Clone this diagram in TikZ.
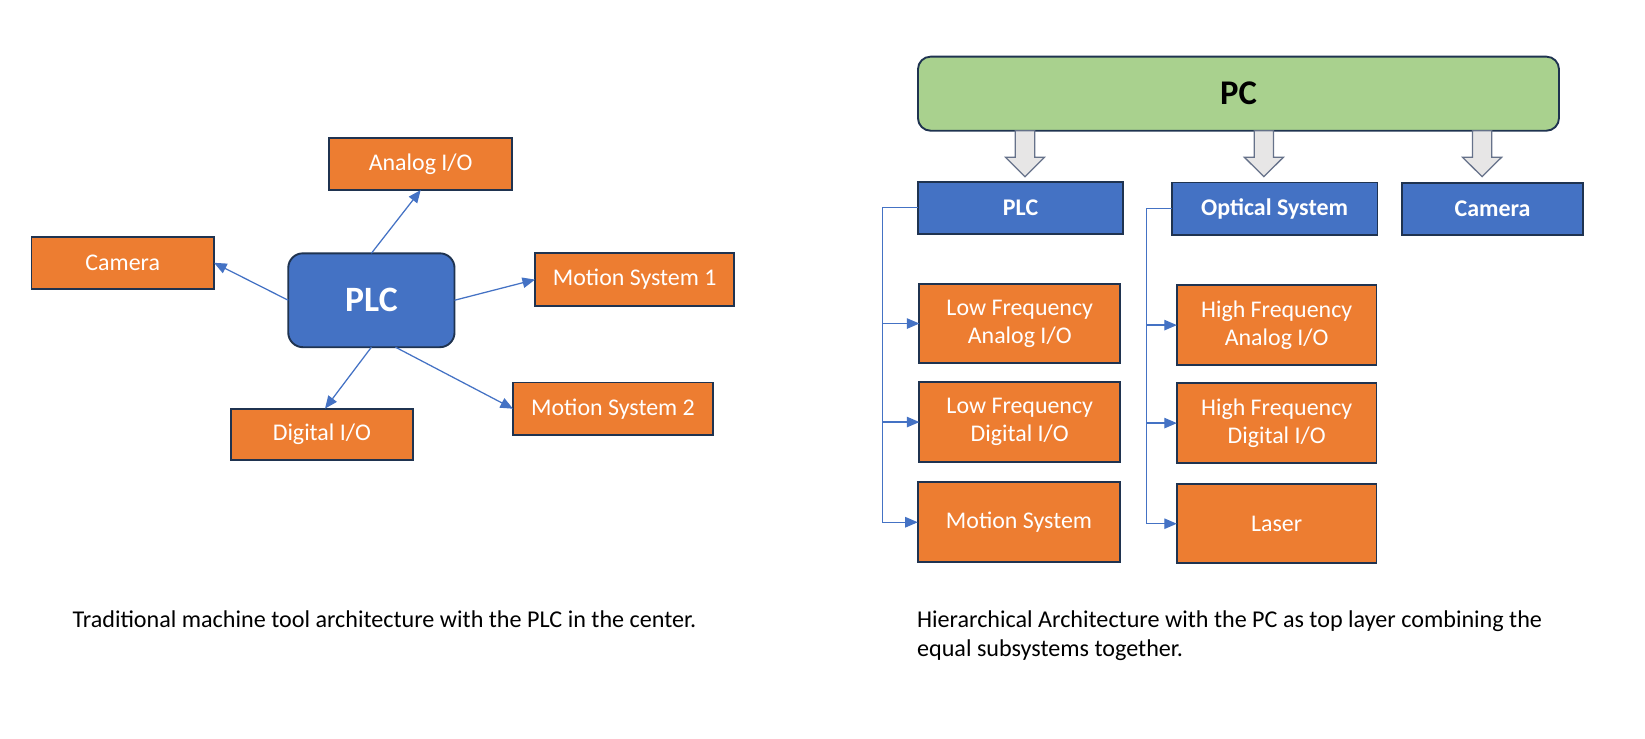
\documentclass[tikz,border=0pt]{standalone}
\usepackage{fontspec}
\setmainfont{Carlito}
\usepackage{tikz}
\usetikzlibrary{calc,arrows.meta}
\definecolor{boxorange}{HTML}{ED7D31}
\definecolor{boxblue}{HTML}{4472C4}
\definecolor{boxnavy}{HTML}{1F3350}
\definecolor{pcgreen}{HTML}{A9D18E}
\definecolor{fatgray}{HTML}{E7E6E6}
\definecolor{fatline}{HTML}{66728A}
\tikzset{
	box/.style={draw=boxnavy, line width=1.8pt, inner sep=0pt, outer sep=0pt, align=center, text=white, font=\fontsize{22.8}{27}\selectfont},
	orangebox/.style={box, fill=boxorange},
	bluebox/.style={box, fill=boxblue, font=\fontsize{22.8}{27}\selectfont\bfseries},
	conn/.style={draw=boxblue, line width=1.2pt, -{Triangle[length=12pt,width=10pt]}},
	fatarrow/.style={draw=fatline, fill=fatgray, line width=1.2pt, line join=miter},
	caption/.style={font=\fontsize{23}{28}\selectfont, align=left, inner sep=0pt}
}
% block arrow from the PC bar down to a box, shifted by #1
\newcommand\fatarrow[2][0]{\draw[fatarrow] ($(pc.south -| #2.north)+(#1,0)$) ++(-9.2,0) -- ++(0,25.4) -- ++(-9.3,0) -- ++(18.5,18.4) -- ++(18.5,-18.4) -- ++(-9.3,0) -- ++(0,-25.4) -- cycle;}

\begin{document}
\begin{tikzpicture}[x=1pt, y=-1pt]
			%%%%% START %%%%%
			\useasboundingbox (0,0) rectangle (1568,703.5);
			
			% traditional architecture
			\node[bluebox, rounded corners=14pt, minimum width=158.5, minimum height=89.5, font=\fontsize{34}{40}\selectfont\bfseries] (plc) at (354, 286.2) {PLC};
			\node[orangebox, minimum width=174, minimum height=50] (analog) at (401, 156.2) {Analog I/O};
			\node[orangebox, minimum width=174, minimum height=50] (camera) at (117, 250.5) {Camera};
			\node[orangebox, minimum width=190, minimum height=50] (mot1) at (605, 266.5) {Motion System 1};
			\node[orangebox, minimum width=190.6, minimum height=50] (mot2) at (584.3, 389.6) {Motion System 2};
			\node[orangebox, minimum width=174, minimum height=49] (digital) at (306.8, 414) {Digital I/O};
			
			\draw[conn] (plc.north) -- (analog.south);
			\draw[conn] (plc.west) -- (camera.east);
			\draw[conn] (plc.east) -- (mot1.west);
			\draw[conn] ([xshift=23pt]plc.south) -- (mot2.west);
			\draw[conn] (plc.south) -- ([xshift=3pt]digital.north);
			
			\node[caption, anchor=base west] (capl) at (69, 598) {Traditional machine tool architecture with the PLC in the center.};
			
			% hierarchical architecture
			\node[box, fill=pcgreen, rounded corners=12pt, minimum width=611, minimum height=70.6, text=black, font=\fontsize{33}{40}\selectfont\bfseries] (pc) at (1180.5, 89.3) {PC};
			
			\node[bluebox, minimum width=195.6, minimum height=49.8] (plcr) at (972.8, 198.1) {PLC};
			\node[bluebox, minimum width=196.2, minimum height=50] (optical) at (1214.9, 199) {Optical System};
			\node[bluebox, minimum width=172.8, minimum height=50] (cam2) at (1422.6, 199.1) {Camera};
			
			\fatarrow[4.2]{plcr}
			\fatarrow[-10.2]{optical}
			\fatarrow[-9.9]{cam2}
			
			\node[orangebox, minimum width=191.3, minimum height=75.3] (lfa) at (972, 308.4) {Low Frequency\\Analog I/O};
			\node[orangebox, minimum width=191.3, minimum height=76.2] (lfd) at (972, 402.3) {Low Frequency\\Digital I/O};
			\node[orangebox, minimum width=193, minimum height=76.5] (mots) at (971.3, 497.8) {Motion System};
			
			\node[orangebox, minimum width=190.3, minimum height=76.3] (hfa) at (1216.9, 309.9) {High Frequency\\Analog I/O};
			\node[orangebox, minimum width=190.3, minimum height=76.3] (hfd) at (1216.9, 403.3) {High Frequency\\Digital I/O};
			\node[orangebox, minimum width=190.3, minimum height=75.6] (laser) at (1216.9, 499.2) {Laser};
			
			\draw[conn] (plcr.west) -- ++(-33.8,0) |- (lfa.west);
			\draw[conn] (plcr.west) -- ++(-33.8,0) |- (lfd.west);
			\draw[conn] (plcr.west) -- ++(-33.8,0) |- (mots.west);
			
			\draw[conn] (optical.west) -- ++(-24.3,0) |- (hfa.west);
			\draw[conn] (optical.west) -- ++(-24.3,0) |- (hfd.west);
			\draw[conn] (optical.west) -- ++(-24.3,0) |- (laser.west);
			
			\node[caption, anchor=base west] (capr) at (874, 626) {Hierarchical Architecture with the PC as top layer combining the\\equal subsystems together.};
			
			%%%%% END %%%%%
		\end{tikzpicture}
\end{document}
